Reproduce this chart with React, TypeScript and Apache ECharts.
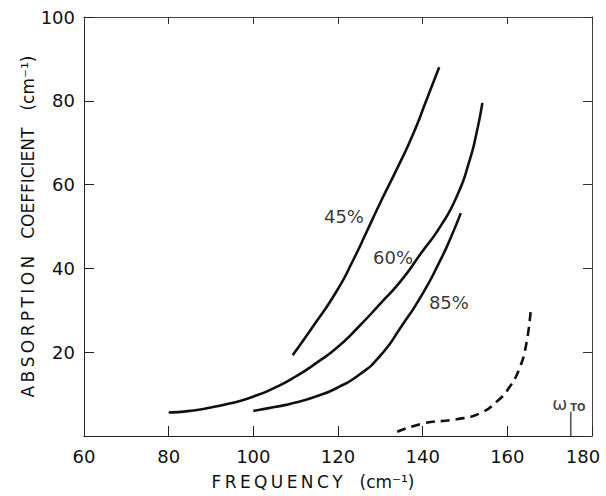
import React, { useEffect, useRef } from "react";
import * as echarts from "echarts";

const xTicks = [60, 80, 100, 120, 140, 160, 180];
const yTicks = [0, 20, 40, 60, 80, 100];

const curve45: [number, number][] = [
  [109.3, 19.3], [114.0, 26.0], [119.7, 34.6], [123.6, 42.0], [126.8, 48.8], [129.9, 55.5],
  [133.8, 63.5], [137.8, 72.2], [140.9, 80.2], [143.9, 88.0],
];
const curve60: [number, number][] = [
  [80.0, 5.6], [85.0, 6.0], [90.0, 6.8], [95.0, 7.9], [100.0, 9.4], [105.0, 11.5], [110.0, 14.2],
  [115.0, 17.5], [120.0, 21.3], [125.0, 26.2], [130.0, 31.6], [135.0, 37.2], [139.6, 43.6],
  [144.3, 50.2], [148.2, 57.5], [151.0, 65.5], [152.7, 72.2], [154.1, 79.5],
];
const curve85: [number, number][] = [
  [100.0, 6.0], [105.0, 6.9], [110.0, 8.0], [115.0, 9.5], [120.0, 11.6], [125.0, 14.6],
  [130.0, 19.2], [135.0, 26.2], [140.0, 34.0], [144.1, 41.8], [146.4, 46.8], [149.0, 53.2],
];
const curveDashed: [number, number][] = [
  [134.0, 1.0], [140.1, 3.0], [148.0, 4.0], [153.5, 5.4], [157.5, 8.2], [160.6, 11.8], [163.0, 16.5],
  [164.5, 22.1], [165.5, 29.7],
];
const curveLabels = [
  { name: "45%", value: [121.4, 52.4] },
  { name: "60%", value: [133.0, 42.6] },
  { name: "85%", value: [146.2, 31.9] },
];
const omegaTO = 175;
const omegaTickTop = 5.8;

const THIN = "\u2009";
const EM = "\u2003";
const FONT = "DejaVu Sans";
const spaceOut = (s: string, sp: string) => s.split("").join(sp);

const xTitle = spaceOut("FREQUENCY", THIN) + EM + "(cm⁻¹)";
const yTitle = spaceOut("ABSORPTION", THIN) + EM + "COEFFICIENT" + EM + "(cm⁻¹)";

export default function App() {
  const ref = useRef<HTMLDivElement>(null);
  useEffect(() => {
    if (!ref.current) return;
    const chart = echarts.init(ref.current, undefined, { renderer: "svg" });
    const solid = (data: [number, number][]) => ({
      type: "line",
      data,
      smooth: 0.6,
      showSymbol: false,
      symbol: "none",
      lineStyle: { color: "#111", width: 2.6 },
      z: 3,
    });
    const maxX = xTicks[xTicks.length - 1];
    chart.setOption({
      animation: false,
      backgroundColor: "#fff",
      grid: { left: 84, right: 14, top: 17, bottom: 60 },
      xAxis: [
        {
          type: "value",
          min: xTicks[0],
          max: maxX,
          interval: 20,
          position: "bottom",
          name: xTitle,
          nameLocation: "middle",
          nameGap: 37,
          nameTextStyle: { fontFamily: FONT, fontSize: 17, color: "#111", padding: [0, 50, 0, 0] },
          axisLine: { onZero: false, lineStyle: { color: "#222", width: 1 } },
          axisTick: { inside: true, length: 10, lineStyle: { color: "#222" } },
          axisLabel: {
            fontFamily: FONT,
            fontSize: 18,
            color: "#111",
            margin: 11,
            formatter: (v: number) => (v === maxX ? "{e|" + v + "}" : String(v)),
            rich: { e: { fontFamily: FONT, fontSize: 18, color: "#111", padding: [0, 18, 0, 0] } },
          },
          splitLine: { show: false },
        },
        {
          type: "value",
          min: xTicks[0],
          max: maxX,
          interval: 20,
          position: "top",
          axisLine: { onZero: false, lineStyle: { color: "#444", width: 1 } },
          axisTick: { inside: true, length: 7, lineStyle: { color: "#333" } },
          axisLabel: { show: false },
          splitLine: { show: false },
        },
      ],
      yAxis: [
        {
          type: "value",
          min: yTicks[0],
          max: yTicks[yTicks.length - 1],
          interval: 20,
          position: "left",
          name: yTitle,
          nameLocation: "middle",
          nameGap: 48,
          nameMoveOverlap: false,
          nameTextStyle: { fontFamily: FONT, fontSize: 17, color: "#111" },
          axisLine: { onZero: false, lineStyle: { color: "#222", width: 1 } },
          axisTick: { inside: true, length: 10, lineStyle: { color: "#222" } },
          axisLabel: {
            fontFamily: FONT,
            fontSize: 18,
            color: "#111",
            margin: 9,
            formatter: (v: number) => (v === 0 ? "" : String(v)),
          },
          splitLine: { show: false },
        },
        {
          type: "value",
          min: yTicks[0],
          max: yTicks[yTicks.length - 1],
          interval: 20,
          position: "right",
          axisLine: { onZero: false, lineStyle: { color: "#444", width: 1 } },
          axisTick: { inside: true, length: 9, lineStyle: { color: "#333" } },
          axisLabel: { show: false },
          splitLine: { show: false },
        },
      ],
      series: [
        solid(curve45),
        solid(curve60),
        solid(curve85),
        {
          type: "line",
          data: curveDashed,
          smooth: 0.5,
          symbol: "none",
          lineStyle: { color: "#111", width: 2.6, type: [9, 6] },
        },
        {
          type: "line",
          data: [[omegaTO, 0], [omegaTO, omegaTickTop]],
          symbol: "none",
          lineStyle: { color: "#222", width: 1.2 },
        },
        {
          type: "scatter",
          data: [[omegaTO, omegaTickTop]],
          symbolSize: 0,
          label: {
            show: true,
            position: "top",
            offset: [-2, 6],
            formatter: "{w|ω}{s|TO}",
            rich: {
              w: { fontFamily: FONT, fontSize: 18, color: "#111" },
              s: { fontFamily: FONT, fontSize: 10, color: "#111", padding: [9, 0, 0, 3], fontWeight: "bold" },
            },
          },
        },
        {
          type: "scatter",
          data: curveLabels,
          symbolSize: 0,
          label: {
            show: true,
            position: "inside",
            formatter: "{b}",
            fontFamily: FONT,
            fontSize: 18,
            color: "#000",
          },
        },
      ],
    });
    return () => chart.dispose();
  }, []);
  return (
    <div
      ref={ref}
      style={{ position: "absolute", left: 0, top: 0, width: 606, height: 496 }}
    />
  );
}
